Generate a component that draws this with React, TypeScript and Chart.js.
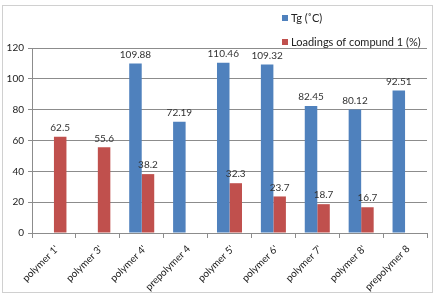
import React, { useEffect, useRef } from "react";
import { Chart, registerables } from "chart.js";

Chart.register(...registerables);

const categories = ["polymer 1'", "polymer 3'", "polymer 4'", "prepolymer 4", "polymer 5'", "polymer 6'", "polymer 7'", "polymer 8'", "prepolymer 8"];
const tgValues: (number | null)[] = [null, null, 109.88, 72.19, 110.46, 109.32, 82.45, 80.12, 92.51];
const loadingValues: (number | null)[] = [62.5, 55.6, 38.2, null, 32.3, 23.7, 18.7, 16.7, null];
const seriesNames = ["Tg (˚C)", "Loadings of compund 1 (%)"];
const yTicks = [0, 20, 40, 60, 80, 100, 120];

const FONT = "Lato, 'Liberation Sans', sans-serif";

const framePlugin = {
  id: "frame",
  beforeDraw(chart: any) {
    const ctx = chart.ctx;
    ctx.save();
    ctx.fillStyle = "#ffffff";
    ctx.fillRect(0, 0, chart.width, chart.height);
    ctx.strokeStyle = "#d0d0d0";
    ctx.lineWidth = 1;
    ctx.strokeRect(2.5, 5.5, 430, 287);
    ctx.restore();
  },
};

const labelsPlugin = {
  id: "valueLabels",
  afterDatasetsDraw(chart: any) {
    const ctx = chart.ctx;
    ctx.save();
    ctx.font = `10px ${FONT}`;
    ctx.fillStyle = "#333333";
    ctx.textAlign = "center";
    ctx.textBaseline = "bottom";
    chart.data.datasets.forEach((ds: any, i: number) => {
      const meta = chart.getDatasetMeta(i);
      meta.data.forEach((el: any, j: number) => {
        const v = ds.data[j];
        if (v === null || v === undefined) return;
        ctx.fillText(String(v), el.x, el.y - 4);
      });
    });
    ctx.restore();
  },
};

const legendPlugin = {
  id: "sideLegend",
  afterDraw(chart: any) {
    const ctx = chart.ctx;
    ctx.save();
    ctx.font = `11px ${FONT}`;
    ctx.textBaseline = "middle";
    ctx.textAlign = "left";
    chart.data.datasets.forEach((ds: any, i: number) => {
      const y = 18 + i * 24;
      ctx.fillStyle = ds.backgroundColor;
      ctx.fillRect(282, y - 3, 6, 6);
      ctx.fillStyle = "#222222";
      ctx.fillText(ds.label, 291, y);
    });
    ctx.restore();
  },
};

export default function App() {
  const ref = useRef<HTMLCanvasElement>(null);
  useEffect(() => {
    if (!ref.current) return;
    const chart = new Chart(ref.current, {
      type: "bar",
      data: {
        labels: categories,
        datasets: [
          { label: seriesNames[0], data: tgValues, backgroundColor: "#4F81BD", categoryPercentage: 0.57, barPercentage: 1 },
          { label: seriesNames[1], data: loadingValues, backgroundColor: "#C0504D", categoryPercentage: 0.57, barPercentage: 1 },
        ],
      },
      options: {
        animation: false,
        responsive: false,
        maintainAspectRatio: false,
        layout: { padding: { top: 48, right: 9, left: 0, bottom: 0 } },
        plugins: { legend: { display: false }, tooltip: { enabled: false } },
        scales: {
          x: {
            grid: { display: true, drawOnChartArea: false, drawTicks: true, tickLength: 5, color: "#8c8c8c", offset: true },
            border: { display: true, color: "#8c8c8c" },
            ticks: { maxRotation: 45, minRotation: 45, font: { family: FONT, size: 10 }, color: "#222222", padding: 5, labelOffset: 3 },
            afterFit(scale: any) { scale.height = 62; },
          },
          y: {
            min: 0,
            max: 120,
            afterBuildTicks(scale: any) { scale.ticks = yTicks.map((v) => ({ value: v })); },
            grid: { color: "#8c8c8c", tickLength: 4 },
            border: { display: true, color: "#8c8c8c" },
            ticks: { font: { family: FONT, size: 10 }, color: "#222222", padding: 4 },
            afterFit(scale: any) { scale.width = 32; },
          },
        },
      },
      plugins: [framePlugin, labelsPlugin, legendPlugin],
    });
    return () => chart.destroy();
  }, []);
  return (
    <div style={{ position: "fixed", left: 0, top: 0, width: 436, height: 295 }}>
      <canvas ref={ref} width={436} height={295} style={{ width: 436, height: 295, display: "block" }} />
    </div>
  );
}
